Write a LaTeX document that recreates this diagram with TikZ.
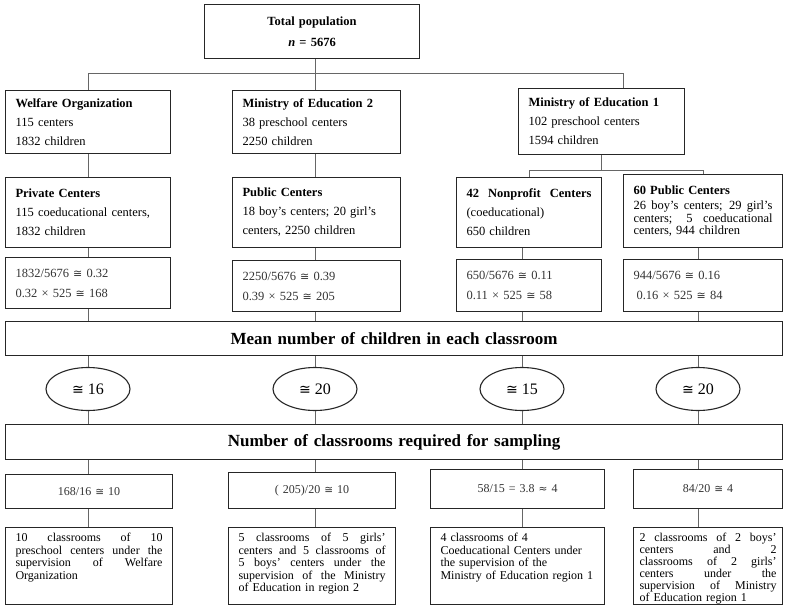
\documentclass[tikz,border=0pt]{standalone}
\usepackage{fontspec}
\setmainfont{Liberation Serif}
\newfontfamily\symfont[Scale=0.88]{DejaVu Sans}
\usetikzlibrary{shapes.geometric}
\newcommand{\fillline}[1]{\makebox[\linewidth][s]{\spaceskip=\fontdimen2\font plus 1fil\relax #1}}
\newcommand{\congsign}{{\symfont ≅}}
\newcommand{\approxsign}{{\symfont ≈}}
\begin{document}
\begin{tikzpicture}[x=1pt,y=-1pt,
  box/.style={draw=black!85,line width=1.1pt,anchor=north west,align=left,
    inner xsep=10pt,inner ysep=2pt,font={\fontsize{12.5}{19}\selectfont}},
  calc/.style={box,text=black!80,font={\fontsize{12.5}{20}\selectfont}},
  ratio/.style={box,align=center,text=black!80,font={\fontsize{12}{14}\selectfont}},
  plan/.style={box,text height=13pt,text depth=62pt,inner ysep=1pt,
    font={\fontsize{12}{12.5}\selectfont}},
  banner/.style={box,align=center,font={\fontsize{17}{20}\selectfont\bfseries}},
  oval/.style={draw=black!85,line width=1.1pt,ellipse,minimum width=84pt,
    minimum height=43pt,font={\fontsize{16}{18}\selectfont}},
  link/.style={draw=black!60,line width=0.8pt}]
  \useasboundingbox (0,0) rectangle (786,609);
  \coordinate (colA) at (88,0);
  \coordinate (colB) at (315,0);
  \coordinate (colC) at (522,0);
  \coordinate (colD) at (698,0);
  \coordinate (bus) at (623,73);
  \coordinate (fork) at (0,170);
  % top of the tree
  \node[box,align=center,text width=195pt,minimum height=54pt,
    font={\fontsize{12.5}{21}\selectfont\bfseries}] (total) at (204,4)
    {Total population\\\textit{n} = 5676};
  \node[box,text width=145pt,minimum height=63pt] (welfare) at (5,90)
    {\textbf{Welfare Organization}\\115 centers\\1832 children};
  \node[box,text width=148pt,minimum height=63pt] (moetwo) at (232,90)
    {\textbf{Ministry of Education 2}\\38 preschool centers\\2250 children};
  \node[box,text width=146pt,minimum height=66pt] (moeone) at (518,88)
    {\textbf{Ministry of Education 1}\\102 preschool centers\\1594 children};
  % kinds of centers
  \node[box,text width=145pt,minimum height=70pt] (private) at (5,177)
    {\textbf{Private Centers}\\115 coeducational centers,\\1832 children};
  \node[box,text width=148pt,minimum height=70pt] (public) at (232,177)
    {\textbf{Public Centers}\\18 boy’s centers; 20 girl’s\\centers, 2250 children};
  \node[box,text width=125pt,minimum height=70pt] (nonprofit) at (456,177)
    {\fillline{\textbf{42 Nonprofit Centers}}\\(coeducational)\\650 children};
  \node[box,text width=139pt,minimum height=73pt,
    font={\fontsize{12.5}{12.5}\selectfont}] (publicsixty) at (623,174)
    {\textbf{60 Public Centers}\\[3pt]\fillline{26 boy’s centers; 29 girl’s}\\
    \fillline{centers; 5 coeducational}\\centers, 944 children};
  % shares of the sample
  \node[calc,text width=145pt,minimum height=51pt] (calcA) at (5,257)
    {1832/5676 \congsign{} 0.32\\0.32 × 525 \congsign{} 168};
  \node[calc,text width=148pt,minimum height=51pt] (calcB) at (232,260)
    {2250/5676 \congsign{} 0.39\\0.39 × 525 \congsign{} 205};
  \node[calc,text width=125pt,minimum height=52pt] (calcC) at (456,259)
    {650/5676 \congsign{} 0.11\\0.11 × 525 \congsign{} 58};
  \node[calc,text width=139pt,minimum height=52pt] (calcD) at (623,259)
    {944/5676 \congsign{} 0.16\\\hspace*{3pt}0.16 × 525 \congsign{} 84};
  \node[banner,text width=757pt,minimum height=34pt] (mean) at (5,321)
    {Mean number of children in each classroom};
  \node[oval] (ovalA) at (88,389) {\congsign{} 16};
  \node[oval] (ovalB) at (315,389) {\congsign{} 20};
  \node[oval] (ovalC) at (522,389) {\congsign{} 15};
  \node[oval] (ovalD) at (698,389) {\congsign{} 20};
  \node[banner,text width=757pt,minimum height=35pt] (number) at (5,424)
    {Number of classrooms required for sampling};
  % classrooms taken
  \node[ratio,text width=147pt,minimum height=34pt] (ratioA) at (5,474)
    {168/16 \congsign{} 10};
  \node[ratio,text width=147pt,minimum height=36pt] (ratioB) at (228,472)
    {( 205)/20 \congsign{} 10};
  \node[ratio,text width=154pt,minimum height=39pt] (ratioC) at (430,469)
    {58/15 = 3.8 \approxsign{} 4};
  \node[ratio,text width=129pt,minimum height=39pt] (ratioD) at (633,469)
    {84/20 \congsign{} 4};
  \node[plan,text width=147pt] (planA) at (5,527)
    {\fillline{10 classrooms of 10}\\\fillline{preschool centers under the}\\
    \fillline{supervision of Welfare}\\Organization};
  \node[plan,text width=147pt] (planB) at (228,527)
    {\fillline{5 classrooms of 5 girls’}\\\fillline{centers and 5 classrooms of}\\
    \fillline{5 boys’ centers under the}\\\fillline{supervision of the Ministry}\\
    of Education in region 2};
  \node[plan,text width=154pt] (planC) at (430,527)
    {4 classrooms of 4\\Coeducational Centers under\\the supervision of the\\
    Ministry of Education region 1};
  \node[plan,inner xsep=6pt,text width=137pt,
    font={\fontsize{12}{12}\selectfont}] (planD) at (633,527)
    {\fillline{2 classrooms of 2 boys’}\\\fillline{centers and 2}\\
    \fillline{classrooms of 2 girls’}\\\fillline{centers under the}\\
    \fillline{supervision of Ministry}\\of Education region 1};
  % connectors
  \draw[link] (total.south -| colB) -- (moetwo.north -| colB);
  \draw[link] (welfare.north -| colA) |- (bus) -- (moeone.north -| bus);
  \draw[link] (moeone.south) -- (moeone.south |- fork);
  \draw[link] (nonprofit.north) |- (publicsixty.north |- fork)
    -- (publicsixty.north);
  \draw[link] (welfare.south -| colA) -- (private.north -| colA)
    (private.south -| colA) -- (calcA.north -| colA)
    (calcA.south -| colA) -- (mean.north -| colA)
    (mean.south -| colA) -- (ovalA.north)
    (ovalA.south) -- (number.north -| colA)
    (number.south -| colA) -- (ratioA.north -| colA)
    (ratioA.south -| colA) -- (planA.north -| colA);
  \draw[link] (moetwo.south -| colB) -- (public.north -| colB)
    (public.south -| colB) -- (calcB.north -| colB)
    (calcB.south -| colB) -- (mean.north -| colB)
    (mean.south -| colB) -- (ovalB.north)
    (ovalB.south) -- (number.north -| colB)
    (number.south -| colB) -- (ratioB.north -| colB)
    (ratioB.south -| colB) -- (planB.north -| colB);
  \draw[link] (nonprofit.south -| colC) -- (calcC.north -| colC)
    (calcC.south -| colC) -- (mean.north -| colC)
    (mean.south -| colC) -- (ovalC.north)
    (ovalC.south) -- (number.north -| colC)
    (number.south -| colC) -- (ratioC.north -| colC)
    (ratioC.south -| colC) -- (planC.north -| colC);
  \draw[link] (publicsixty.south -| colD) -- (calcD.north -| colD)
    (calcD.south -| colD) -- (mean.north -| colD)
    (mean.south -| colD) -- (ovalD.north)
    (ovalD.south) -- (number.north -| colD)
    (number.south -| colD) -- (ratioD.north -| colD)
    (ratioD.south -| colD) -- (planD.north -| colD);
\end{tikzpicture}
\end{document}
